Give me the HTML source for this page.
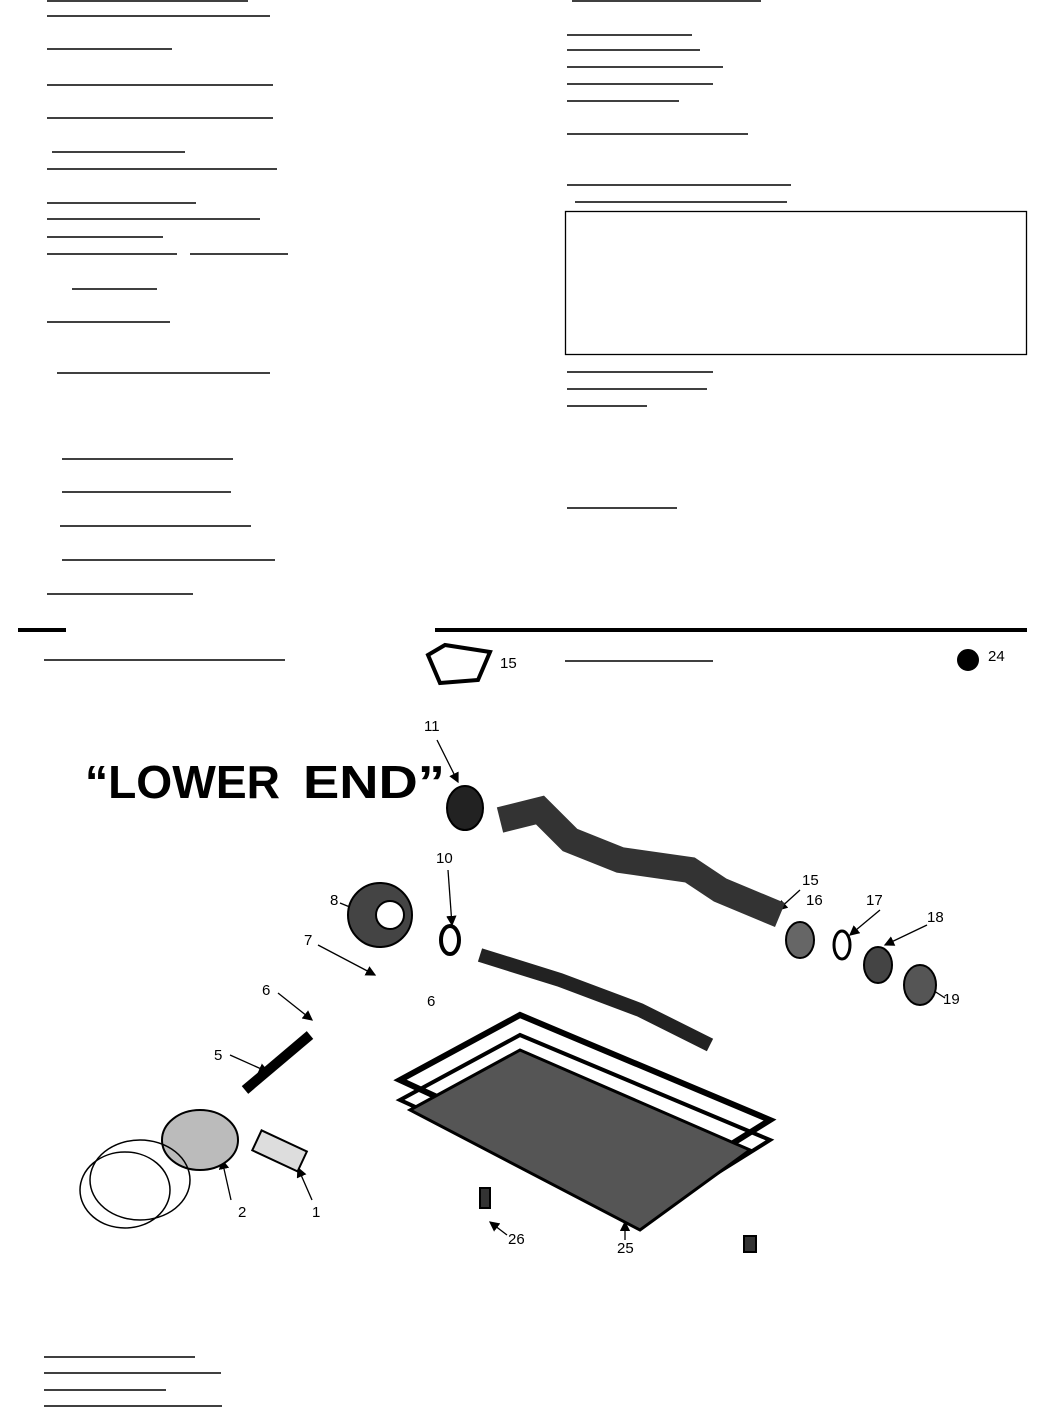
<!DOCTYPE html>
<html><head><meta charset="utf-8"><style>
html,body{margin:0;padding:0;background:#fff;}
body{width:1045px;height:1410px;position:relative;overflow:hidden;font-family:"Liberation Sans",sans-serif;}
svg{position:absolute;left:0;top:0;}
</style></head><body>
<svg width="1045" height="1410" viewBox="0 0 1045 1410">
<defs><marker id="a" markerWidth="8" markerHeight="8" refX="7" refY="4" orient="auto"><path d="M0,0 L8,4 L0,8 Z" fill="#000"/></marker></defs>
<g stroke="#000" stroke-width="1.5">
<line x1="47" y1="1" x2="248" y2="1"/>
<line x1="47" y1="16" x2="270" y2="16"/>
<line x1="47" y1="49" x2="172" y2="49"/>
<line x1="47" y1="85" x2="273" y2="85"/>
<line x1="47" y1="118" x2="273" y2="118"/>
<line x1="52" y1="152" x2="185" y2="152"/>
<line x1="47" y1="169" x2="277" y2="169"/>
<line x1="47" y1="203" x2="196" y2="203"/>
<line x1="47" y1="219" x2="260" y2="219"/>
<line x1="47" y1="237" x2="163" y2="237"/>
<line x1="47" y1="254" x2="177" y2="254"/>
<line x1="190" y1="254" x2="288" y2="254"/>
<line x1="72" y1="289" x2="157" y2="289"/>
<line x1="47" y1="322" x2="170" y2="322"/>
<line x1="57" y1="373" x2="270" y2="373"/>
<line x1="62" y1="459" x2="233" y2="459"/>
<line x1="62" y1="492" x2="231" y2="492"/>
<line x1="60" y1="526" x2="251" y2="526"/>
<line x1="62" y1="560" x2="275" y2="560"/>
<line x1="47" y1="594" x2="193" y2="594"/>
<line x1="44" y1="660" x2="285" y2="660"/>
<line x1="565" y1="661" x2="713" y2="661"/>
<line x1="44" y1="1357" x2="195" y2="1357"/>
<line x1="44" y1="1373" x2="221" y2="1373"/>
<line x1="44" y1="1390" x2="166" y2="1390"/>
<line x1="44" y1="1406" x2="222" y2="1406"/>
<line x1="572" y1="1" x2="761" y2="1"/>
<line x1="567" y1="35" x2="692" y2="35"/>
<line x1="567" y1="50" x2="700" y2="50"/>
<line x1="567" y1="67" x2="723" y2="67"/>
<line x1="567" y1="84" x2="713" y2="84"/>
<line x1="567" y1="101" x2="679" y2="101"/>
<line x1="567" y1="134" x2="748" y2="134"/>
<line x1="567" y1="185" x2="791" y2="185"/>
<line x1="575" y1="202" x2="787" y2="202"/>
<line x1="567" y1="372" x2="713" y2="372"/>
<line x1="567" y1="389" x2="707" y2="389"/>
<line x1="567" y1="406" x2="647" y2="406"/>
<line x1="567" y1="508" x2="677" y2="508"/>
</g>
<rect x="565.5" y="211.5" width="461" height="143" fill="none" stroke="#000" stroke-width="1.3"/>
<rect x="18" y="628" width="48" height="4" fill="#000"/>
<rect x="435" y="628" width="592" height="4" fill="#000"/>
<text x="85" y="798" font-size="46" font-weight="bold" textLength="195" lengthAdjust="spacingAndGlyphs">“LOWER</text>
<text x="303" y="798" font-size="46" font-weight="bold" textLength="142" lengthAdjust="spacingAndGlyphs">END”</text>
<g font-size="15">
<text x="500" y="668">15</text><text x="988" y="661">24</text>
<text x="424" y="731">11</text><text x="436" y="863">10</text>
<text x="330" y="905">8</text><text x="304" y="945">7</text>
<text x="262" y="995">6</text><text x="427" y="1006">6</text>
<text x="214" y="1060">5</text><text x="238" y="1217">2</text>
<text x="312" y="1217">1</text><text x="508" y="1244">26</text>
<text x="617" y="1253">25</text><text x="802" y="885">15</text>
<text x="806" y="905">16</text><text x="866" y="905">17</text>
<text x="927" y="922">18</text><text x="943" y="1004">19</text>
</g>
<g stroke="#000" stroke-width="1.3" marker-end="url(#a)">
<line x1="437" y1="740" x2="458" y2="782"/>
<line x1="448" y1="870" x2="452" y2="925"/>
<line x1="340" y1="903" x2="362" y2="912"/>
<line x1="318" y1="945" x2="375" y2="975"/>
<line x1="278" y1="993" x2="312" y2="1020"/>
<line x1="230" y1="1055" x2="268" y2="1072"/>
<line x1="231" y1="1200" x2="222" y2="1160"/>
<line x1="312" y1="1200" x2="298" y2="1168"/>
<line x1="507" y1="1235" x2="490" y2="1222"/>
<line x1="625" y1="1240" x2="625" y2="1222"/>
<line x1="800" y1="890" x2="778" y2="910"/>
<line x1="880" y1="910" x2="850" y2="935"/>
<line x1="927" y1="925" x2="885" y2="945"/>
<line x1="945" y1="998" x2="925" y2="985"/>
</g>
<g stroke="#000" fill="none" stroke-width="2">
<path d="M428 655 L445 645 L490 652 L478 680 L440 683 Z" stroke-width="4"/>
<circle cx="968" cy="660" r="10" fill="#000"/>
<ellipse cx="465" cy="808" rx="18" ry="22" fill="#222"/>
<path d="M500 820 L540 810 L570 840 L620 860 L690 870 L720 890 L780 915" stroke-width="26" stroke="#333"/>
<circle cx="380" cy="915" r="32" fill="#444"/><circle cx="390" cy="915" r="14" fill="#fff"/>
<ellipse cx="450" cy="940" rx="9" ry="14" stroke-width="4"/>
<path d="M480 955 L560 980 L640 1010 L710 1045" stroke-width="14" stroke="#222"/>
<path d="M245 1090 L310 1035" stroke-width="10"/>
<ellipse cx="200" cy="1140" rx="38" ry="30" stroke-width="2" fill="#bbb"/>
<ellipse cx="140" cy="1180" rx="50" ry="40" stroke-width="1.5"/>
<ellipse cx="125" cy="1190" rx="45" ry="38" stroke-width="1.5"/>
<rect x="255" y="1140" width="50" height="22" transform="rotate(25 280 1150)" fill="#ddd"/>
<path d="M400 1080 L520 1015 L770 1120 L650 1195 Z" stroke-width="6"/>
<path d="M400 1100 L520 1035 L770 1140 L650 1215 Z" stroke-width="4"/>
<path d="M410 1110 L520 1050 L750 1150 L640 1230 Z" fill="#555" stroke-width="3"/>
<ellipse cx="800" cy="940" rx="14" ry="18" fill="#666"/>
<ellipse cx="842" cy="945" rx="8" ry="14" stroke-width="3"/>
<ellipse cx="878" cy="965" rx="14" ry="18" fill="#444"/>
<ellipse cx="920" cy="985" rx="16" ry="20" fill="#555"/>
<rect x="480" y="1188" width="10" height="20" fill="#333"/>
<rect x="744" y="1236" width="12" height="16" fill="#333"/>
</g>
</svg>
</body></html>
